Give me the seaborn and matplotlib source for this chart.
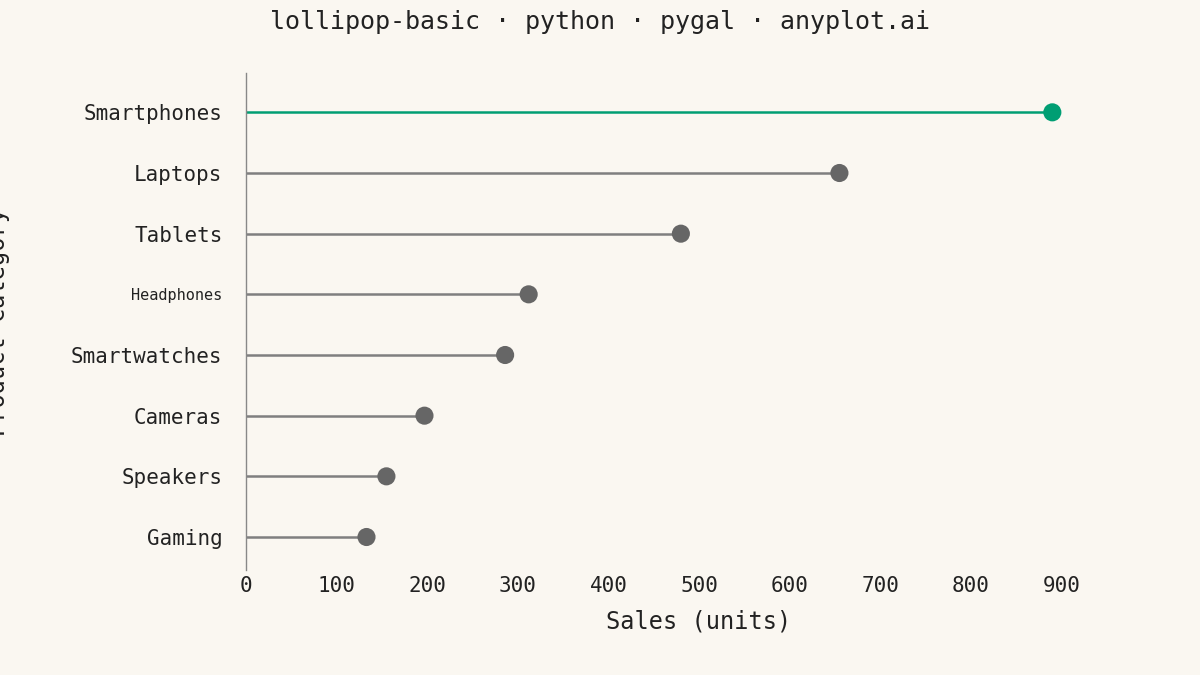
import matplotlib
matplotlib.use("Agg")
import matplotlib.pyplot as plt
import seaborn as sns
import pandas as pd

# Data
categories = ["Smartphones", "Laptops", "Tablets", "Headphones",
              "Smartwatches", "Cameras", "Speakers", "Gaming"]
sales = [890, 655, 480, 312, 286, 197, 155, 133]

BG = "#FAF7F1"
GREY = "#666666"
GREEN = "#009E73"

sns.set_theme(style="white")
plt.rcParams["font.family"] = ["DejaVu Sans Mono"]

df = pd.DataFrame({"category": categories, "sales": sales})
df["pos"] = range(len(df))
colors = [GREEN if i == 0 else GREY for i in range(len(df))]

fig = plt.figure(figsize=(12, 6.75), dpi=100, facecolor=BG)
ax = fig.add_axes([0.205, 0.155, 0.755, 0.737])
ax.set_facecolor(BG)

# Stems
for i, row in df.iterrows():
    ax.hlines(row["pos"], 0, row["sales"],
              color=GREEN if i == 0 else "#7f7f7f", linewidth=1.8, zorder=1)

# Dots
sns.scatterplot(data=df, x="sales", y="pos", hue="category",
                palette=dict(zip(categories, colors)), s=170,
                edgecolor="none", legend=False, ax=ax, zorder=2)

ax.set_xlim(0, 1000)
ax.set_ylim(len(df) - 0.45, -0.65)
ax.set_xticks(range(0, 1000, 100))
ax.set_yticks(df["pos"])
ax.set_yticklabels(categories)
ax.tick_params(axis="y", length=0, labelsize=15, colors="#222222", pad=17)
ax.tick_params(axis="x", length=0, labelsize=15, colors="#222222", pad=4)
for lbl in ax.get_yticklabels():
    if lbl.get_text() == "Headphones":
        lbl.set_fontsize(11)

for s in ["top", "right", "bottom"]:
    ax.spines[s].set_visible(False)
ax.spines["left"].set_color("#888888")
ax.spines["left"].set_linewidth(1)

ax.set_xlabel("Sales (units)", fontsize=17, color="#222222", labelpad=10)
ax.set_ylabel("Product Category", fontsize=17, color="#222222", labelpad=44)
fig.suptitle("lollipop-basic · python · pygal · anyplot.ai",
             fontsize=18, color="#222222", y=0.985)

fig.savefig("out.png", dpi=100, facecolor=BG)
